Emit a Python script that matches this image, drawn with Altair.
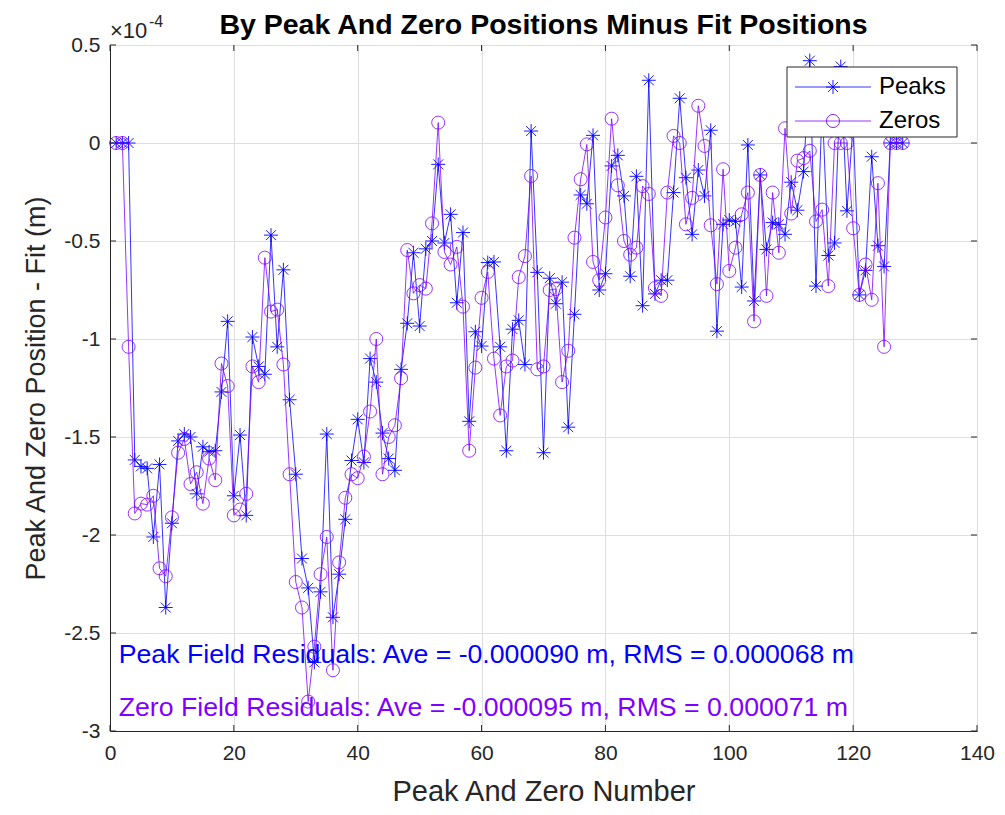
import altair as alt
import pandas as pd

# ---------------- data (values in units of 1e-4 m) ----------------
numbers = list(range(1, 129))

peaks = [
    0, 0, 0, -1.617, -1.65, -1.66, -2.01, -1.64, -2.37, -1.94,
    -1.52, -1.485, -1.50, -1.79, -1.55, -1.575, -1.57, -1.27, -0.91, -1.80,
    -1.49, -1.90, -0.99, -1.14, -1.18, -0.47, -1.04, -0.647, -1.31, -1.69,
    -2.12, -2.27, -2.65, -2.29, -1.485, -2.42, -2.20, -1.92, -1.62, -1.41,
    -1.63, -1.10, -1.22, -1.48, -1.61, -1.67, -1.155, -0.92, -0.56, -0.934,
    -0.54, -0.50, -0.109, -0.51, -0.364, -0.815, -0.457, -1.42, -0.963, -1.036,
    -0.61, -0.607, -1.04, -1.57, -0.95, -0.905, -1.13, 0.061, -0.66, -1.58,
    -0.69, -0.82, -0.71, -1.45, -0.874, -0.265, -0.31, 0.039, -0.75, -0.667,
    -0.117, -0.063, -0.27, -0.68, -0.17, -0.83, 0.32, -0.77, -0.70, -0.70,
    -0.253, 0.228, -0.177, -0.466, -0.138, -0.27, 0.065, -0.96, -0.415, -0.393,
    -0.40, -0.735, -0.01, -0.806, -0.163, -0.543, -0.406, -0.415, -0.466, -0.20,
    -0.343, -0.146, 0.42, -0.73, 0.2, -0.574, -0.51, 0.39, -0.346, 0.1,
    -0.775, -0.65, -0.07, -0.524, -0.63, 0, 0, 0,
]

zeros = [
    0, 0, -1.04, -1.89, -1.84, -1.845, -1.80, -2.17, -2.21, -1.91,
    -1.58, -1.51, -1.74, -1.68, -1.84, -1.61, -1.72, -1.125, -1.24, -1.90,
    -1.87, -1.79, -1.14, -1.22, -0.585, -0.86, -0.85, -1.13, -1.69, -2.24,
    -2.37, -2.85, -2.57, -2.20, -2.01, -2.69, -2.14, -1.81, -1.69, -1.71,
    -1.60, -1.37, -1.00, -1.69, -1.50, -1.44, -1.20, -0.546, -0.767, -0.725,
    -0.743, -0.41, 0.104, -0.556, -0.62, -0.53, -0.835, -1.57, -1.146, -0.79,
    -0.658, -1.10, -1.39, -1.14, -1.11, -0.684, -0.577, -0.168, -1.155, -1.14,
    -0.75, -0.745, -1.22, -1.06, -0.483, -0.185, -0.007, -0.607, -0.70, -0.38,
    0.124, -0.216, -0.50, -0.57, -0.534, -0.22, -0.26, -0.74, -0.78, -0.253,
    0.036, 0.0, -0.415, -0.28, 0.19, -0.015, -0.42, -0.72, -0.134, -0.653,
    -0.534, -0.364, -0.253, -0.91, -0.163, -0.78, -0.253, -0.56, 0.075, -0.36,
    -0.09, -0.077, -0.04, -0.40, -0.34, -0.73, 0.0, 0.0, 0.0, -0.435,
    -0.775, -0.62, -0.80, -0.205, -1.04, 0, 0, 0,
]

assert len(peaks) == 128 and len(zeros) == 128

x_ticks = [0, 20, 40, 60, 80, 100, 120, 140]
y_ticks = [0.5, 0, -0.5, -1, -1.5, -2, -2.5, -3]

series_names = ["Peaks", "Zeros"]
notes = [
    "Peak Field Residuals: Ave = -0.000090 m, RMS = 0.000068 m",
    "Zero Field Residuals: Ave = -0.000095 m, RMS = 0.000071 m",
]
note_x = [1.4, 1.4]
note_y = [-2.61, -2.885]
title_text = "By Peak And Zero Positions Minus Fit Positions"

# ---------------- styling ----------------
W, H = 867, 686
BLUE = "#0000ff"
PURPLE = "#8000ff"
AXC = "#262626"
GRID = "#dedede"
FONT = "Liberation Sans"
ASTERISK = "M-1,0L1,0M0,-1L0,1M-0.71,-0.71L0.71,0.71M-0.71,0.71L0.71,-0.71"

df_p = pd.DataFrame({"n": numbers, "v": peaks})
df_z = pd.DataFrame({"n": numbers, "v": zeros})

xs = alt.Scale(domain=[0, 140], nice=False, zero=False)
ys = alt.Scale(domain=[-3, 0.5], nice=False, zero=False)

x_axis = alt.Axis(
    values=x_ticks, grid=True, gridColor=GRID, gridWidth=1, ticks=False,
    domainColor=AXC, domainWidth=1, labelFont=FONT, labelFontSize=21,
    labelColor=AXC, labelPadding=11, labelFlush=False, labelOverlap=False,
    title="Peak And Zero Number",
    titleFont=FONT, titleFontSize=29, titleFontWeight="normal",
    titleColor=AXC, titlePadding=14,
)
y_axis = alt.Axis(
    values=y_ticks, grid=True, gridColor=GRID, gridWidth=1, ticks=False,
    domainColor=AXC, domainWidth=1, labelFont=FONT, labelFontSize=21,
    labelColor=AXC, labelPadding=10, labelFlush=False, labelOverlap=False,
    labelExpr="toString(datum.value)",
    title="Peak And Zero Position - Fit (m)", titleFont=FONT,
    titleFontSize=27, titleFontWeight="normal", titleColor=AXC,
    titlePadding=13,
)

X = alt.X("n:Q", scale=xs, axis=x_axis)
Y = alt.Y("v:Q", scale=ys, axis=y_axis)

peaks_line = alt.Chart(df_p).mark_line(color=BLUE, strokeWidth=0.8).encode(x=X, y=Y)
peaks_pts = alt.Chart(df_p).mark_point(
    shape=ASTERISK, size=196, color=BLUE, strokeWidth=0.9, opacity=1, filled=False
).encode(x="n:Q", y="v:Q")
zeros_line = alt.Chart(df_z).mark_line(color=PURPLE, strokeWidth=0.8).encode(x="n:Q", y="v:Q")
zeros_pts = alt.Chart(df_z).mark_point(
    shape="circle", size=170, color=PURPLE, strokeWidth=0.8, opacity=1, filled=False
).encode(x="n:Q", y="v:Q")

# inward ticks (MATLAB style)
tx = pd.DataFrame({"t": x_ticks})
ty = pd.DataFrame({"t": y_ticks})
tick_b = alt.Chart(tx).mark_rule(color=AXC, strokeWidth=1).encode(
    x=alt.X("t:Q", scale=xs), y=alt.value(H), y2=alt.value(H - 6))
tick_t = alt.Chart(tx).mark_rule(color=AXC, strokeWidth=1).encode(
    x=alt.X("t:Q", scale=xs), y=alt.value(0), y2=alt.value(6))
tick_l = alt.Chart(ty).mark_rule(color=AXC, strokeWidth=1).encode(
    y=alt.Y("t:Q", scale=ys), x=alt.value(0), x2=alt.value(6))
tick_r = alt.Chart(ty).mark_rule(color=AXC, strokeWidth=1).encode(
    y=alt.Y("t:Q", scale=ys), x=alt.value(W), x2=alt.value(W - 6))

# annotations
df_notes = pd.DataFrame({"n": note_x, "v": note_y, "label": notes, "c": [BLUE, PURPLE]})
notes_layer = alt.Chart(df_notes).mark_text(
    align="left", baseline="middle", font=FONT, fontSize=26.7
).encode(x="n:Q", y="v:Q", text="label:N", color=alt.Color("c:N", scale=None))

one = pd.DataFrame({"a": [0]})

# title
title_layer = alt.Chart(one).mark_text(
    align="center", baseline="middle", font=FONT, fontSize=28.5,
    fontWeight="bold", color="black"
).encode(x=alt.value(W / 2), y=alt.value(-20), text=alt.value(title_text))

# exponent label
exp_base = alt.Chart(one).mark_text(
    align="left", baseline="alphabetic", font=FONT, fontSize=22, color=AXC
).encode(x=alt.value(0), y=alt.value(-7), text=alt.value("\u00d710"))
exp_sup = alt.Chart(one).mark_text(
    align="left", baseline="alphabetic", font=FONT, fontSize=16, color=AXC
).encode(x=alt.value(39), y=alt.value(-18), text=alt.value("-4"))

# legend (drawn on top)
LX0, LX1, LY0, LY1 = 677, 847, 22, 92
leg_box = alt.Chart(one).mark_rect(fill="white", stroke=AXC, strokeWidth=1).encode(
    x=alt.value(LX0), x2=alt.value(LX1), y=alt.value(LY0), y2=alt.value(LY1))
leg_rows = []
for i, (name, col) in enumerate(zip(series_names, [BLUE, PURPLE])):
    yy = 42 + i * 34
    leg_rows.append(alt.Chart(one).mark_rule(color=col, strokeWidth=0.8).encode(
        x=alt.value(LX0 + 8), x2=alt.value(LX0 + 84), y=alt.value(yy)))
    leg_rows.append(alt.Chart(one).mark_point(
        shape=ASTERISK if i == 0 else "circle", size=196 if i == 0 else 170,
        color=col, strokeWidth=0.9, filled=False, opacity=1
    ).encode(x=alt.value(LX0 + 46), y=alt.value(yy)))
    leg_rows.append(alt.Chart(one).mark_text(
        align="left", baseline="middle", font=FONT, fontSize=24, color="black"
    ).encode(x=alt.value(LX0 + 92), y=alt.value(yy), text=alt.value(name)))

chart = alt.layer(
    peaks_line, peaks_pts, zeros_line, zeros_pts,
    tick_b, tick_t, tick_l, tick_r,
    notes_layer, title_layer, exp_base, exp_sup,
    leg_box, *leg_rows,
).properties(
    width=W, height=H,
    padding={"left": 102, "top": 37, "right": 20, "bottom": 76},
    autosize=alt.AutoSizeParams(type="none"),
    background="white",
).configure_view(stroke=AXC, strokeWidth=1)

chart.save("out.html", embed_options={"renderer": "svg", "actions": False})
